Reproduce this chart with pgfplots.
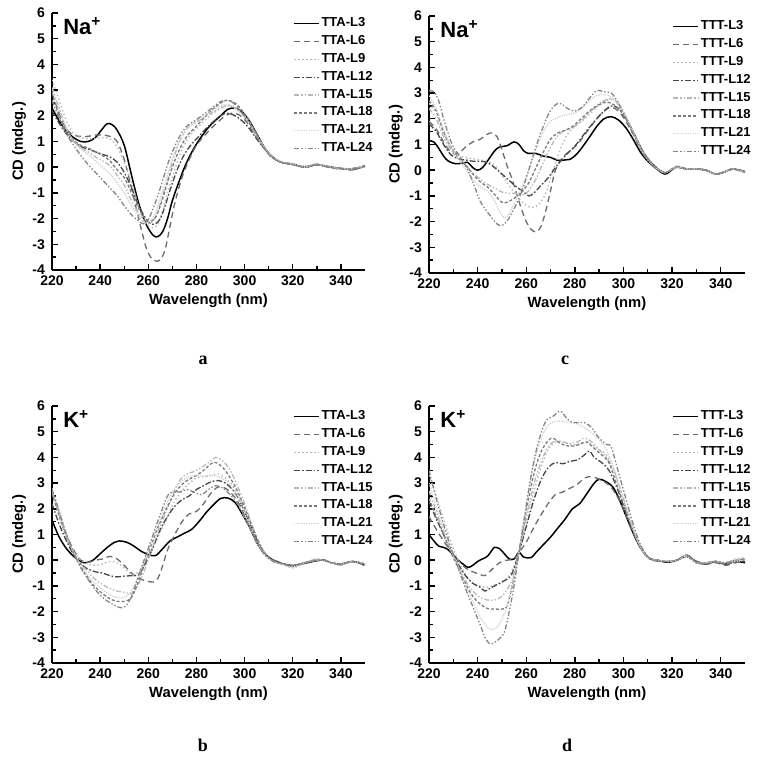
\documentclass[border=0pt]{standalone}
\usepackage{fontspec}
\setmainfont{Liberation Sans}
\newfontfamily\serifb{Liberation Serif}
\usepackage{pgfplots}
\pgfplotsset{compat=1.18}
\definecolor{c6}{gray}{0.42}
\definecolor{c9}{gray}{0.72}
\definecolor{c12}{gray}{0.28}
\definecolor{c15}{gray}{0.72}
\definecolor{c18}{gray}{0.48}
\definecolor{c21}{gray}{0.82}
\definecolor{c24}{gray}{0.52}
\pgfplotsset{
 s3/.style={black, line width=0.75pt, solid},
 s6/.style={c6, line width=0.65pt, dash pattern=on 3pt off 2pt},
 s9/.style={c9, line width=0.7pt, dash pattern=on 0.7pt off 1.3pt},
 s12/.style={c12, line width=0.65pt, dash pattern=on 3pt off 1pt on 0.8pt off 1pt},
 s15/.style={c15, line width=0.65pt, dash pattern=on 2.5pt off 1pt on 0.7pt off 1pt on 0.7pt off 1pt},
 s18/.style={c18, line width=0.65pt, dash pattern=on 1.5pt off 1pt},
 s21/.style={c21, line width=0.7pt, dash pattern=on 0.6pt off 0.6pt},
 s24/.style={c24, line width=0.65pt, dash pattern=on 2.5pt off 1pt on 0.7pt off 1pt on 0.7pt off 1pt},
 cdaxis/.style={
  scale only axis, width=156.5pt, height=128.5pt,
  xmin=220, xmax=350, ymin=-4, ymax=6,
  axis lines=left, axis line style={-, line width=0.8pt},
  xtick={220,240,...,340}, ytick={-4,-3,...,6},
  minor x tick num=1, minor y tick num=1,
  tick align=inside, major tick length=3pt, minor tick length=1.8pt,
  every tick/.style={black, line width=0.7pt},
  tick label style={font=\bfseries\fontsize{7}{8}\selectfont},
  xticklabel style={yshift=0.5pt},
  /pgf/number format/assume math mode=true,
  xlabel={Wavelength (nm)}, ylabel={CD (mdeg.)},
  label style={font=\bfseries\fontsize{7.4}{9}\selectfont},
  x label style={at={(axis description cs:0.5,-0.118)}, anchor=center},
  y label style={at={(axis description cs:-0.105,0.5)}, anchor=center},
  legend style={at={(0.77,0.99)}, anchor=north west, draw=none, fill=none,
    font=\bfseries\fontsize{6.5}{7}\selectfont, row sep=1.3pt, inner sep=0pt,
    nodes={inner sep=0.8pt}},
  legend cell align=left,
  legend image code/.code={\draw[#1] (0pt,0pt) -- (12.5pt,0pt);},
  every axis plot/.append style={smooth, tension=0.55, no marks},
 },
}
\begin{document}
\begin{tikzpicture}
\useasboundingbox (0,0) rectangle (383pt,382.5pt);
% ---------------- panel a ----------------
\begin{axis}[cdaxis, anchor=south west, at={(26pt,247.5pt)}]
\addplot[s3] coordinates {(220,2.3)(223,1.8)(226,1.4)(229,1.15)(232,1.0)(235,1.0)(238,1.15)(241,1.5)(243,1.7)(245,1.65)(247,1.45)(250,0.85)(253,-0.3)(256,-1.4)(259,-2.2)(262,-2.65)(264,-2.7)(266,-2.5)(268,-2.0)(270,-1.3)(273,-0.5)(276,0.2)(280,0.9)(285,1.55)(290,2.0)(293,2.25)(296,2.3)(299,2.15)(302,1.8)(305,1.3)(308,0.8)(311,0.45)(315,0.2)(320,0.12)(325,0.0)(330,0.1)(335,0.02)(340,-0.05)(345,-0.08)(350,0.05)};
\addlegendentry{TTA-L3}
\addplot[s6] coordinates {(220,2.9)(223,2.1)(226,1.5)(229,1.25)(232,1.2)(235,1.2)(238,1.25)(241,1.25)(244,1.2)(247,1.0)(250,0.3)(253,-0.8)(256,-2.0)(259,-3.1)(261,-3.5)(263,-3.65)(265,-3.6)(267,-3.2)(269,-2.3)(271,-1.4)(274,-0.4)(277,0.3)(280,0.85)(285,1.4)(290,1.85)(293,2.05)(296,2.1)(299,1.95)(302,1.6)(305,1.15)(308,0.75)(311,0.4)(315,0.2)(320,0.1)(325,0.02)(330,0.12)(335,0.0)(340,-0.08)(345,-0.05)(350,0.05)};
\addlegendentry{TTA-L6}
\addplot[s9] coordinates {(220,3.4)(223,2.6)(226,1.8)(229,1.3)(232,1.15)(235,1.1)(238,1.12)(241,1.15)(244,1.1)(247,0.8)(250,0.2)(253,-0.6)(256,-1.5)(259,-2.2)(262,-2.35)(264,-2.2)(266,-1.7)(268,-1.0)(271,-0.1)(274,0.7)(277,1.2)(280,1.5)(285,1.95)(290,2.3)(293,2.4)(296,2.35)(299,2.1)(302,1.75)(305,1.25)(308,0.8)(311,0.45)(315,0.22)(320,0.12)(325,0.0)(330,0.1)(335,0.03)(340,-0.05)(345,-0.05)(350,0.0)};
\addlegendentry{TTA-L9}
\addplot[s12] coordinates {(220,2.2)(223,1.7)(226,1.3)(229,1.0)(232,0.8)(235,0.7)(238,0.6)(241,0.5)(244,0.4)(247,0.2)(250,-0.2)(253,-0.8)(256,-1.5)(259,-2.0)(261,-2.2)(263,-2.2)(265,-2.0)(267,-1.5)(269,-0.9)(272,-0.1)(275,0.5)(278,0.9)(281,1.2)(285,1.6)(290,2.0)(293,2.1)(296,2.0)(299,1.8)(302,1.5)(305,1.1)(308,0.75)(311,0.45)(315,0.2)(320,0.1)(325,0.02)(330,0.1)(335,0.0)(340,-0.05)(345,-0.1)(350,0.05)};
\addlegendentry{TTA-L12}
\addplot[s15] coordinates {(220,3.1)(223,2.3)(226,1.5)(229,1.0)(232,0.75)(235,0.6)(238,0.4)(241,0.25)(244,0.05)(247,-0.3)(250,-0.7)(253,-1.3)(256,-1.8)(258,-2.1)(260,-2.2)(262,-2.1)(264,-1.7)(266,-1.1)(268,-0.5)(270,0.2)(273,1.0)(276,1.5)(280,1.75)(285,2.05)(290,2.3)(293,2.4)(296,2.3)(299,2.05)(302,1.7)(305,1.25)(308,0.8)(311,0.45)(315,0.22)(320,0.12)(325,0.02)(330,0.1)(335,0.0)(340,-0.05)(345,-0.07)(350,0.05)};
\addlegendentry{TTA-L15}
\addplot[s18] coordinates {(220,2.9)(223,2.0)(226,1.4)(229,1.05)(232,0.85)(235,0.75)(238,0.6)(241,0.45)(244,0.25)(247,-0.1)(250,-0.4)(253,-1.0)(256,-1.6)(259,-2.05)(261,-2.1)(263,-1.95)(265,-1.5)(267,-0.9)(270,0.0)(273,0.7)(276,1.2)(280,1.6)(285,2.1)(290,2.5)(293,2.6)(296,2.5)(299,2.2)(302,1.8)(305,1.3)(308,0.8)(311,0.45)(315,0.2)(320,0.12)(325,0.0)(330,0.1)(335,0.0)(340,-0.05)(345,-0.05)(350,0.05)};
\addlegendentry{TTA-L18}
\addplot[s21] coordinates {(220,3.0)(223,2.2)(226,1.5)(229,1.0)(232,0.7)(235,0.5)(238,0.25)(241,0.0)(244,-0.25)(247,-0.6)(250,-1.0)(253,-1.5)(256,-1.9)(258,-2.1)(260,-2.15)(262,-1.95)(264,-1.5)(266,-0.9)(268,-0.3)(271,0.6)(274,1.2)(277,1.6)(280,1.8)(285,2.1)(290,2.4)(293,2.45)(296,2.3)(299,2.05)(302,1.7)(305,1.2)(308,0.8)(311,0.45)(315,0.22)(320,0.12)(325,0.0)(330,0.12)(335,0.02)(340,-0.05)(345,-0.06)(350,0.05)};
\addlegendentry{TTA-L21}
\addplot[s24] coordinates {(220,2.6)(223,1.9)(226,1.3)(229,0.85)(232,0.45)(235,0.1)(238,-0.2)(241,-0.5)(244,-0.8)(247,-1.1)(250,-1.5)(253,-1.85)(256,-2.1)(258,-2.2)(260,-2.05)(262,-1.6)(264,-1.1)(266,-0.5)(268,0.1)(270,0.6)(273,1.2)(276,1.6)(280,1.85)(285,2.2)(290,2.55)(293,2.6)(296,2.45)(299,2.1)(302,1.7)(305,1.2)(308,0.75)(311,0.4)(315,0.2)(320,0.1)(325,0.0)(330,0.1)(335,0.0)(340,-0.05)(345,-0.07)(350,0.05)};
\addlegendentry{TTA-L24}
\node[anchor=north west, font=\bfseries\fontsize{11}{12}\selectfont, inner sep=0pt] at (rel axis cs:0.035,0.985) {Na\textsuperscript{+}};
\end{axis}
% ---------------- panel c ----------------
\begin{axis}[cdaxis, anchor=south west, at={(214.5pt,246pt)}, width=158pt]
\addplot[s3] coordinates {(220,1.15)(222,1.1)(224,0.85)(226,0.55)(228,0.35)(231,0.25)(234,0.28)(236,0.3)(238,0.1)(240,0.0)(242,0.1)(244,0.35)(247,0.75)(249,0.9)(252,0.95)(255,1.1)(257,1.0)(259,0.75)(261,0.65)(264,0.65)(267,0.55)(270,0.5)(273,0.38)(276,0.4)(278,0.42)(281,0.65)(285,1.15)(289,1.7)(292,2.0)(295,2.08)(298,1.95)(301,1.65)(304,1.2)(307,0.7)(310,0.35)(313,0.1)(317,-0.15)(320,0.02)(322,0.12)(326,0.05)(330,0.05)(334,0.0)(338,-0.15)(342,-0.05)(345,0.05)(350,-0.08)};
\addlegendentry{TTT-L3}
\addplot[s6] coordinates {(220,1.9)(223,1.6)(226,1.1)(229,0.7)(232,0.65)(235,0.9)(238,1.1)(241,1.2)(244,1.4)(246,1.45)(248,1.3)(250,0.8)(252,0.2)(254,-0.3)(256,-0.9)(258,-1.5)(260,-2.0)(262,-2.3)(264,-2.4)(266,-2.2)(268,-1.6)(270,-0.8)(272,0.0)(275,0.5)(278,0.75)(281,1.0)(285,1.5)(289,2.0)(292,2.3)(295,2.45)(298,2.3)(301,1.9)(304,1.4)(307,0.85)(310,0.45)(313,0.15)(317,-0.1)(320,0.05)(322,0.12)(326,0.05)(330,0.05)(334,0.0)(338,-0.15)(342,-0.05)(345,0.05)(350,-0.05)};
\addlegendentry{TTT-L6}
\addplot[s9] coordinates {(220,2.6)(223,2.2)(226,1.4)(229,0.9)(232,0.6)(235,0.5)(238,0.45)(241,0.4)(244,0.35)(247,0.2)(250,-0.2)(253,-0.6)(256,-1.0)(259,-1.3)(262,-1.45)(265,-1.35)(268,-0.9)(271,0.0)(274,0.8)(277,1.4)(280,1.7)(284,2.0)(288,2.35)(291,2.6)(294,2.75)(297,2.7)(300,2.3)(303,1.7)(306,1.1)(309,0.6)(312,0.25)(315,0.0)(317,-0.1)(320,0.05)(322,0.15)(326,0.05)(330,0.05)(334,0.0)(338,-0.15)(342,-0.03)(345,0.05)(350,-0.1)};
\addlegendentry{TTT-L9}
\addplot[s12] coordinates {(220,1.8)(223,1.5)(226,1.0)(229,0.6)(232,0.45)(235,0.4)(238,0.35)(241,0.35)(244,0.3)(247,0.1)(250,-0.15)(253,-0.4)(256,-0.65)(259,-0.85)(261,-1.0)(263,-0.9)(266,-0.6)(269,-0.3)(272,0.1)(275,0.45)(278,0.75)(281,1.05)(285,1.55)(289,2.0)(292,2.3)(295,2.5)(298,2.4)(301,2.0)(304,1.5)(307,0.9)(310,0.45)(313,0.15)(317,-0.1)(320,0.05)(322,0.12)(326,0.05)(330,0.05)(334,0.0)(338,-0.15)(342,-0.05)(345,0.05)(350,-0.05)};
\addlegendentry{TTT-L12}
\addplot[s15] coordinates {(220,2.4)(223,2.0)(226,1.3)(229,0.8)(232,0.45)(235,0.2)(238,-0.1)(241,-0.35)(244,-0.55)(247,-0.7)(250,-0.85)(253,-0.9)(256,-0.9)(259,-0.95)(261,-0.8)(264,-0.35)(267,0.3)(270,0.9)(273,1.35)(276,1.55)(279,1.65)(282,1.85)(286,2.25)(290,2.6)(293,2.75)(296,2.75)(299,2.4)(302,1.9)(305,1.3)(308,0.75)(311,0.35)(314,0.05)(317,-0.1)(320,0.05)(322,0.12)(326,0.05)(330,0.05)(334,0.0)(338,-0.15)(342,-0.05)(345,0.05)(350,-0.1)};
\addlegendentry{TTT-L15}
\addplot[s18] coordinates {(220,2.7)(223,2.3)(226,1.5)(229,0.9)(232,0.5)(235,0.2)(238,-0.15)(241,-0.45)(244,-0.65)(247,-0.95)(250,-1.25)(252,-1.25)(255,-1.1)(258,-0.85)(261,-0.5)(264,0.1)(267,0.7)(270,1.2)(273,1.45)(276,1.55)(279,1.7)(282,1.95)(286,2.3)(290,2.55)(293,2.65)(296,2.55)(299,2.3)(302,1.85)(305,1.3)(308,0.75)(311,0.35)(314,0.05)(317,-0.1)(320,0.05)(322,0.12)(326,0.05)(330,0.05)(334,0.0)(338,-0.15)(342,-0.05)(345,0.05)(350,-0.05)};
\addlegendentry{TTT-L18}
\addplot[s21] coordinates {(220,2.9)(223,2.4)(226,1.6)(229,0.9)(232,0.45)(235,0.05)(238,-0.35)(241,-0.65)(244,-0.8)(247,-1.2)(249,-1.6)(251,-1.85)(253,-1.7)(255,-1.3)(258,-0.7)(261,0.0)(264,0.8)(267,1.5)(270,1.9)(273,2.05)(276,2.15)(279,2.2)(282,2.35)(286,2.7)(289,2.9)(292,2.95)(295,2.85)(298,2.55)(301,2.05)(304,1.45)(307,0.85)(310,0.4)(313,0.1)(317,-0.1)(320,0.05)(322,0.12)(326,0.05)(330,0.05)(334,0.0)(338,-0.15)(342,-0.05)(345,0.05)(350,-0.1)};
\addlegendentry{TTT-L21}
\addplot[s24] coordinates {(220,3.1)(222,3.05)(224,2.7)(226,2.0)(228,1.4)(230,0.9)(233,0.5)(236,0.0)(239,-0.7)(241,-1.2)(243,-1.5)(245,-1.75)(247,-2.0)(249,-2.15)(251,-2.1)(253,-1.85)(255,-1.5)(257,-1.1)(259,-0.6)(261,0.0)(263,0.6)(265,1.2)(267,1.7)(269,2.15)(271,2.45)(273,2.6)(275,2.55)(277,2.4)(280,2.3)(283,2.45)(286,2.8)(289,3.1)(292,3.05)(295,3.0)(298,2.6)(301,2.0)(304,1.4)(307,0.8)(310,0.4)(313,0.1)(317,-0.1)(320,0.05)(322,0.15)(326,0.05)(330,0.05)(334,0.0)(338,-0.15)(342,-0.05)(345,0.05)(350,-0.05)};
\addlegendentry{TTT-L24}
\node[anchor=north west, font=\bfseries\fontsize{11}{12}\selectfont, inner sep=0pt] at (rel axis cs:0.035,0.985) {Na\textsuperscript{+}};
\end{axis}
% ---------------- panel b ----------------
\begin{axis}[cdaxis, anchor=south west, at={(26pt,51pt)}]
\addplot[s3] coordinates {(220,1.55)(223,0.9)(226,0.45)(229,0.15)(232,-0.05)(234,-0.1)(237,0.0)(240,0.25)(243,0.5)(246,0.7)(248,0.75)(251,0.7)(254,0.55)(257,0.35)(260,0.22)(263,0.18)(266,0.45)(269,0.75)(272,0.9)(275,1.05)(278,1.2)(281,1.5)(284,1.85)(287,2.15)(290,2.4)(293,2.42)(296,2.25)(299,1.8)(302,1.3)(305,0.7)(308,0.3)(311,0.05)(315,-0.12)(320,-0.22)(325,-0.12)(330,-0.02)(333,0.0)(336,-0.1)(340,-0.15)(345,-0.05)(350,-0.2)};
\addlegendentry{TTA-L3}
\addplot[s6] coordinates {(220,2.6)(223,1.8)(226,1.0)(229,0.4)(232,0.0)(235,-0.08)(238,0.0)(241,0.05)(244,0.15)(247,0.05)(250,-0.2)(253,-0.5)(256,-0.7)(259,-0.8)(262,-0.85)(264,-0.7)(266,-0.2)(268,0.4)(271,1.0)(274,1.5)(277,1.8)(280,1.9)(283,2.2)(286,2.6)(289,2.85)(292,2.8)(295,2.55)(298,2.15)(301,1.5)(304,0.9)(307,0.4)(310,0.1)(315,-0.1)(320,-0.2)(325,-0.1)(330,0.0)(333,0.02)(336,-0.1)(340,-0.15)(345,-0.05)(350,-0.15)};
\addlegendentry{TTA-L6}
\addplot[s9] coordinates {(220,2.8)(223,1.9)(226,1.0)(229,0.35)(232,0.0)(235,-0.15)(238,-0.2)(241,-0.15)(244,-0.05)(247,-0.1)(250,-0.3)(253,-0.55)(256,-0.45)(259,0.0)(262,0.55)(265,1.1)(268,1.7)(271,2.3)(274,2.7)(277,3.0)(280,3.2)(283,3.25)(286,3.3)(289,3.35)(292,3.2)(295,2.9)(298,2.4)(301,1.7)(304,1.0)(307,0.45)(310,0.1)(315,-0.1)(320,-0.25)(325,-0.1)(330,0.05)(333,0.0)(336,-0.1)(340,-0.15)(345,-0.05)(350,-0.15)};
\addlegendentry{TTA-L9}
\addplot[s12] coordinates {(220,2.2)(223,1.4)(226,0.75)(229,0.2)(232,-0.15)(235,-0.35)(238,-0.45)(241,-0.5)(244,-0.6)(247,-0.65)(250,-0.62)(253,-0.6)(256,-0.55)(259,-0.1)(262,0.5)(265,1.2)(268,1.7)(271,2.1)(274,2.35)(277,2.5)(280,2.75)(283,2.9)(286,3.05)(289,3.1)(292,3.0)(295,2.75)(298,2.3)(301,1.65)(304,1.0)(307,0.45)(310,0.1)(315,-0.1)(320,-0.2)(325,-0.1)(330,0.0)(333,0.0)(336,-0.1)(340,-0.15)(345,-0.05)(350,-0.15)};
\addlegendentry{TTA-L12}
\addplot[s15] coordinates {(220,2.7)(223,1.8)(226,0.95)(229,0.3)(232,-0.15)(235,-0.45)(238,-0.75)(241,-0.95)(244,-1.1)(247,-1.2)(250,-1.25)(253,-1.3)(255,-1.1)(258,-0.5)(261,0.3)(264,1.1)(267,1.8)(270,2.5)(273,3.1)(276,3.35)(279,3.45)(282,3.6)(285,3.8)(288,4.0)(291,3.85)(294,3.5)(297,2.9)(300,2.2)(303,1.4)(306,0.7)(309,0.2)(312,-0.05)(316,-0.15)(320,-0.3)(325,-0.1)(330,0.05)(333,0.0)(336,-0.1)(340,-0.2)(345,-0.05)(350,-0.2)};
\addlegendentry{TTA-L15}
\addplot[s18] coordinates {(220,2.6)(223,1.7)(226,0.9)(229,0.25)(232,-0.25)(235,-0.7)(238,-1.05)(241,-1.3)(244,-1.5)(247,-1.6)(250,-1.6)(253,-1.45)(256,-0.8)(259,0.0)(262,0.8)(265,1.5)(268,2.1)(271,2.6)(274,2.95)(277,3.15)(280,3.3)(283,3.5)(286,3.75)(288,3.8)(291,3.6)(294,3.2)(297,2.7)(300,2.05)(303,1.35)(306,0.65)(309,0.2)(312,-0.05)(316,-0.15)(320,-0.25)(325,-0.1)(330,0.0)(333,0.0)(336,-0.1)(340,-0.15)(345,-0.05)(350,-0.15)};
\addlegendentry{TTA-L18}
\addplot[s21] coordinates {(220,2.7)(223,1.8)(226,0.95)(229,0.3)(232,-0.2)(235,-0.6)(238,-0.9)(241,-1.15)(244,-1.35)(247,-1.45)(250,-1.45)(253,-1.2)(256,-0.6)(259,0.1)(262,0.9)(265,1.6)(268,2.3)(271,2.8)(274,3.1)(277,3.25)(280,3.3)(283,3.25)(286,3.3)(289,3.25)(292,3.1)(295,2.8)(298,2.3)(301,1.6)(304,0.9)(307,0.4)(310,0.05)(315,-0.15)(320,-0.25)(325,-0.1)(330,0.0)(333,0.0)(336,-0.1)(340,-0.15)(345,-0.05)(350,-0.15)};
\addlegendentry{TTA-L21}
\addplot[s24] coordinates {(220,2.75)(223,1.9)(226,1.0)(229,0.3)(232,-0.3)(235,-0.75)(238,-1.15)(241,-1.45)(244,-1.65)(247,-1.8)(249,-1.85)(251,-1.75)(253,-1.4)(256,-0.6)(259,0.2)(262,1.0)(265,1.8)(268,2.5)(270,2.65)(273,2.65)(276,2.75)(279,2.65)(282,2.55)(285,2.75)(288,2.9)(291,2.8)(294,2.55)(297,2.2)(300,1.65)(303,1.1)(306,0.5)(309,0.15)(312,-0.05)(316,-0.15)(320,-0.2)(325,-0.1)(330,0.0)(333,0.0)(336,-0.1)(340,-0.15)(345,-0.05)(350,-0.15)};
\addlegendentry{TTA-L24}
\node[anchor=north west, font=\bfseries\fontsize{11}{12}\selectfont, inner sep=0pt] at (rel axis cs:0.035,0.985) {K\textsuperscript{+}};
\end{axis}
% ---------------- panel d ----------------
\begin{axis}[cdaxis, anchor=south west, at={(214.5pt,51pt)}, width=158pt]
\addplot[s3] coordinates {(220,1.0)(222,0.75)(224,0.55)(226,0.5)(228,0.4)(230,0.2)(232,0.0)(234,-0.15)(236,-0.28)(238,-0.2)(240,-0.05)(242,0.05)(244,0.15)(246,0.4)(247,0.5)(249,0.45)(251,0.25)(253,0.05)(255,0.05)(257,0.3)(259,0.12)(262,0.1)(264,0.3)(267,0.6)(270,0.9)(273,1.25)(276,1.6)(279,2.0)(282,2.2)(285,2.6)(288,3.0)(290,3.15)(293,3.05)(296,2.8)(299,2.2)(302,1.5)(305,0.85)(308,0.35)(311,0.05)(314,0.0)(318,-0.08)(322,0.0)(326,0.15)(330,-0.05)(334,-0.15)(338,-0.05)(342,-0.15)(346,-0.05)(350,-0.1)};
\addlegendentry{TTT-L3}
\addplot[s6] coordinates {(220,1.7)(223,1.2)(226,0.75)(229,0.35)(232,0.0)(235,-0.3)(238,-0.45)(241,-0.55)(243,-0.6)(246,-0.35)(249,-0.1)(252,0.0)(255,0.05)(257,0.3)(260,0.7)(263,1.25)(266,1.75)(269,2.2)(272,2.55)(275,2.65)(278,2.8)(281,2.95)(284,3.2)(287,3.25)(290,3.15)(293,3.0)(296,2.7)(299,2.2)(302,1.5)(305,0.85)(308,0.35)(311,0.05)(314,0.0)(318,-0.05)(322,0.0)(326,0.2)(330,-0.05)(334,-0.15)(338,-0.1)(342,-0.2)(346,-0.1)(350,-0.05)};
\addlegendentry{TTT-L6}
\addplot[s9] coordinates {(220,3.3)(223,2.5)(226,1.6)(229,0.7)(232,0.0)(235,-0.55)(238,-0.9)(241,-1.0)(244,-1.05)(247,-0.95)(250,-0.85)(253,-0.6)(255,-0.2)(257,0.3)(260,1.4)(263,2.6)(266,3.6)(269,4.3)(272,4.6)(275,4.6)(278,4.5)(281,4.5)(284,4.6)(287,4.5)(290,4.3)(293,4.1)(296,3.5)(299,2.6)(302,1.7)(305,0.9)(308,0.35)(311,0.05)(314,0.0)(318,-0.05)(322,0.0)(326,0.2)(330,-0.1)(334,-0.1)(338,-0.05)(342,-0.1)(346,0.05)(350,0.1)};
\addlegendentry{TTT-L9}
\addplot[s12] coordinates {(220,2.3)(223,1.6)(226,1.0)(229,0.4)(232,-0.15)(235,-0.6)(238,-0.9)(241,-1.05)(243,-1.2)(245,-1.1)(248,-0.95)(251,-0.8)(254,-0.55)(257,0.3)(260,1.3)(263,2.3)(266,3.1)(269,3.6)(272,3.8)(275,3.75)(278,3.85)(281,3.9)(284,4.1)(286,4.25)(288,4.0)(291,3.8)(294,3.5)(297,2.9)(300,2.1)(303,1.3)(306,0.65)(309,0.2)(312,0.0)(318,-0.05)(322,0.0)(326,0.15)(330,-0.1)(334,-0.1)(338,-0.05)(342,-0.15)(346,-0.05)(350,-0.05)};
\addlegendentry{TTT-L12}
\addplot[s15] coordinates {(220,2.7)(223,1.9)(226,1.1)(229,0.4)(232,-0.2)(235,-0.8)(238,-1.2)(241,-1.45)(244,-1.55)(247,-1.55)(250,-1.4)(253,-1.0)(255,-0.5)(257,0.3)(260,1.6)(263,2.9)(266,3.8)(269,4.4)(272,4.65)(275,4.6)(278,4.55)(281,4.6)(284,4.75)(287,4.6)(290,4.3)(293,4.0)(296,3.5)(299,2.7)(302,1.8)(305,0.95)(308,0.35)(311,0.05)(314,0.0)(318,-0.05)(322,0.0)(326,0.15)(330,-0.1)(334,-0.1)(338,-0.05)(342,-0.1)(346,0.0)(350,0.05)};
\addlegendentry{TTT-L15}
\addplot[s18] coordinates {(220,2.4)(223,1.7)(226,1.0)(229,0.3)(232,-0.3)(235,-0.9)(238,-1.4)(241,-1.7)(244,-1.88)(247,-1.9)(250,-1.9)(252,-1.8)(254,-1.1)(257,0.3)(260,1.9)(263,3.3)(266,4.2)(269,4.65)(271,4.75)(274,4.55)(277,4.45)(280,4.45)(283,4.55)(285,4.6)(288,4.35)(291,4.1)(294,3.8)(297,3.0)(300,2.2)(303,1.4)(306,0.7)(309,0.2)(312,0.0)(318,-0.05)(322,0.0)(326,0.2)(330,-0.1)(334,-0.1)(338,-0.05)(342,-0.15)(346,-0.05)(350,0.0)};
\addlegendentry{TTT-L18}
\addplot[s21] coordinates {(220,3.0)(223,2.1)(226,1.2)(229,0.4)(232,-0.3)(235,-1.0)(238,-1.6)(241,-2.2)(244,-2.6)(246,-2.7)(248,-2.6)(250,-2.3)(252,-1.8)(254,-1.0)(257,0.3)(260,2.1)(263,3.7)(266,4.7)(269,5.25)(272,5.4)(275,5.4)(278,5.35)(281,5.3)(284,5.15)(287,4.95)(290,4.7)(293,4.3)(296,3.6)(299,2.7)(302,1.8)(305,0.95)(308,0.35)(311,0.05)(314,0.0)(318,-0.05)(322,0.0)(326,0.15)(330,-0.1)(334,-0.1)(338,-0.05)(342,-0.1)(346,-0.05)(350,0.0)};
\addlegendentry{TTT-L21}
\addplot[s24] coordinates {(220,3.5)(223,2.4)(226,1.4)(229,0.5)(232,-0.3)(235,-1.1)(238,-1.8)(241,-2.5)(243,-3.0)(245,-3.25)(247,-3.2)(249,-3.05)(251,-2.8)(253,-2.0)(255,-1.0)(257,0.3)(259,1.5)(262,3.3)(265,4.6)(268,5.4)(271,5.6)(274,5.8)(276,5.6)(278,5.4)(281,5.35)(284,5.35)(287,5.15)(290,4.75)(293,4.5)(295,4.4)(298,3.4)(301,2.4)(304,1.4)(307,0.6)(310,0.15)(313,0.0)(318,-0.05)(322,0.0)(326,0.2)(330,-0.1)(334,-0.15)(338,-0.05)(342,-0.1)(346,0.0)(350,0.05)};
\addlegendentry{TTT-L24}
\node[anchor=north west, font=\bfseries\fontsize{11}{12}\selectfont, inner sep=0pt] at (rel axis cs:0.035,0.985) {K\textsuperscript{+}};
\end{axis}
% sub-panel letters
\node[font=\serifb\bfseries\fontsize{9}{10}\selectfont] at (101.5pt,202.5pt) {a};
\node[font=\serifb\bfseries\fontsize{9}{10}\selectfont] at (282.5pt,202.5pt) {c};
\node[font=\serifb\bfseries\fontsize{9}{10}\selectfont] at (101.5pt,10pt) {b};
\node[font=\serifb\bfseries\fontsize{9}{10}\selectfont] at (283.5pt,10pt) {d};
\end{tikzpicture}
\end{document}
